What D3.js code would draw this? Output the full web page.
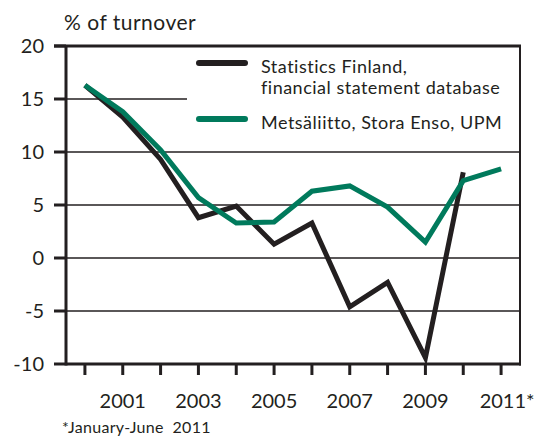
<!DOCTYPE html>
<html>
<head>
<meta charset="utf-8">
<script src="https://cdn.jsdelivr.net/npm/d3@7"></script>
<style>
  body { margin: 0; background: #fff; }
  text { font-family: Lato, "Open Sans", sans-serif; fill: #231f20; }
</style>
</head>
<body>
<svg id="chart" width="534" height="439"></svg>
<script>
// data
const years = [2000, 2001, 2002, 2003, 2004, 2005, 2006, 2007, 2008, 2009, 2010, 2011];
const statFinland = [16.3, 13.3, 9.3, 3.8, 4.9, 1.3, 3.3, -4.6, -2.3, -9.4, 8.1, null];
const forestCos = [16.3, 13.8, 10.2, 5.7, 3.3, 3.4, 6.3, 6.8, 4.8, 1.5, 7.3, 8.4];
const yTicks = [-10, -5, 0, 5, 10, 15, 20];
const xLabels = ["2001", "2003", "2005", "2007", "2009", "2011*"];
const xLabelYears = [2001, 2003, 2005, 2007, 2009, 2011];
const legendNames = [["Statistics Finland,", "financial statement database"], ["Metsäliitto, Stora Enso, UPM"]];

const colBlack = "#231f20";
const colGreen = "#007a5c";

const svg = d3.select("#chart");
const pLeft = 66, pRight = 520, pTop = 46, pBottom = 364;

const x = d3.scaleLinear().domain([1999.5, 2011.5]).range([pLeft, pRight]);
const y = d3.scaleLinear().domain([-10, 20]).range([pBottom, pTop]);

// gridlines (15 is hidden behind the legend box)
svg.append("g").selectAll("line")
    .data(yTicks.filter(v => v > -10 && v < 20))
    .join("line")
    .attr("x1", pLeft)
    .attr("x2", v => v == 15 ? 187 : pRight)
    .attr("y1", v => y(v))
    .attr("y2", v => y(v))
    .attr("stroke", colBlack)
    .attr("stroke-width", 1.3);

// y axis ticks and labels
const gy = svg.append("g");
gy.selectAll("line")
    .data(yTicks)
    .join("line")
    .attr("x1", 54).attr("x2", pLeft)
    .attr("y1", v => y(v)).attr("y2", v => y(v))
    .attr("stroke", colBlack).attr("stroke-width", 3);
gy.selectAll("text")
    .data(yTicks)
    .join("text")
    .attr("x", 44)
    .attr("y", v => y(v) + 7)
    .attr("text-anchor", "end")
    .attr("font-size", 20)
    .text(v => v);

// x ticks
svg.append("g").selectAll("line")
    .data(years)
    .join("line")
    .attr("x1", d => x(d)).attr("x2", d => x(d))
    .attr("y1", pBottom).attr("y2", pBottom + 11)
    .attr("stroke", colBlack).attr("stroke-width", 3);
svg.append("g").selectAll("text")
    .data(xLabels)
    .join("text")
    .attr("x", (d, i) => x(xLabelYears[i]) + (d.endsWith("*") ? 6 : 0))
    .attr("y", 408)
    .attr("text-anchor", "middle")
    .attr("font-size", 20)
    .text(d => d);

// frame
svg.append("line").attr("x1", 54).attr("x2", pRight + 1).attr("y1", pTop).attr("y2", pTop)
    .attr("stroke", colBlack).attr("stroke-width", 3);
svg.append("line").attr("x1", pLeft).attr("x2", pRight + 1).attr("y1", pBottom).attr("y2", pBottom)
    .attr("stroke", colBlack).attr("stroke-width", 3);
svg.append("line").attr("x1", pLeft).attr("x2", pLeft).attr("y1", pTop).attr("y2", pBottom + 1.5)
    .attr("stroke", colBlack).attr("stroke-width", 3);
svg.append("line").attr("x1", pRight).attr("x2", pRight).attr("y1", pTop).attr("y2", pBottom + 1.5)
    .attr("stroke", colBlack).attr("stroke-width", 2);

// series
const line = d3.line()
    .defined(d => d[1] != null)
    .x(d => x(d[0]))
    .y(d => y(d[1]));
const series = [
    { vals: statFinland, color: colBlack },
    { vals: forestCos, color: colGreen }
];
series.forEach(s => {
    svg.append("path")
        .datum(years.map((yr, i) => [yr, s.vals[i]]))
        .attr("d", line)
        .attr("fill", "none")
        .attr("stroke", s.color)
        .attr("stroke-width", 5)
        .attr("stroke-linejoin", "miter");
});

// legend
const gLeg = svg.append("g");
const legY = [63, 119];
legendNames.forEach((lines, i) => {
    gLeg.append("line")
        .attr("x1", 199).attr("x2", 245)
        .attr("y1", legY[i]).attr("y2", legY[i])
        .attr("stroke", series[i].color)
        .attr("stroke-width", 6)
        .attr("stroke-linecap", "round");
    lines.forEach((t, j) => {
        gLeg.append("text")
            .attr("x", 261)
            .attr("y", legY[i] + 10 + j * 21)
            .attr("font-size", 18)
            .attr("letter-spacing", 0.5)
            .text(t);
    });
});

// titles
svg.append("text").attr("x", 64).attr("y", 30).attr("font-size", 21)
    .attr("letter-spacing", 0.5).text("% of turnover");
svg.append("text").attr("x", 62).attr("y", 433).attr("font-size", 16)
    .attr("letter-spacing", 0.3).attr("xml:space", "preserve").style("white-space", "pre")
    .text("*January-June  2011");
</script>
</body>
</html>
